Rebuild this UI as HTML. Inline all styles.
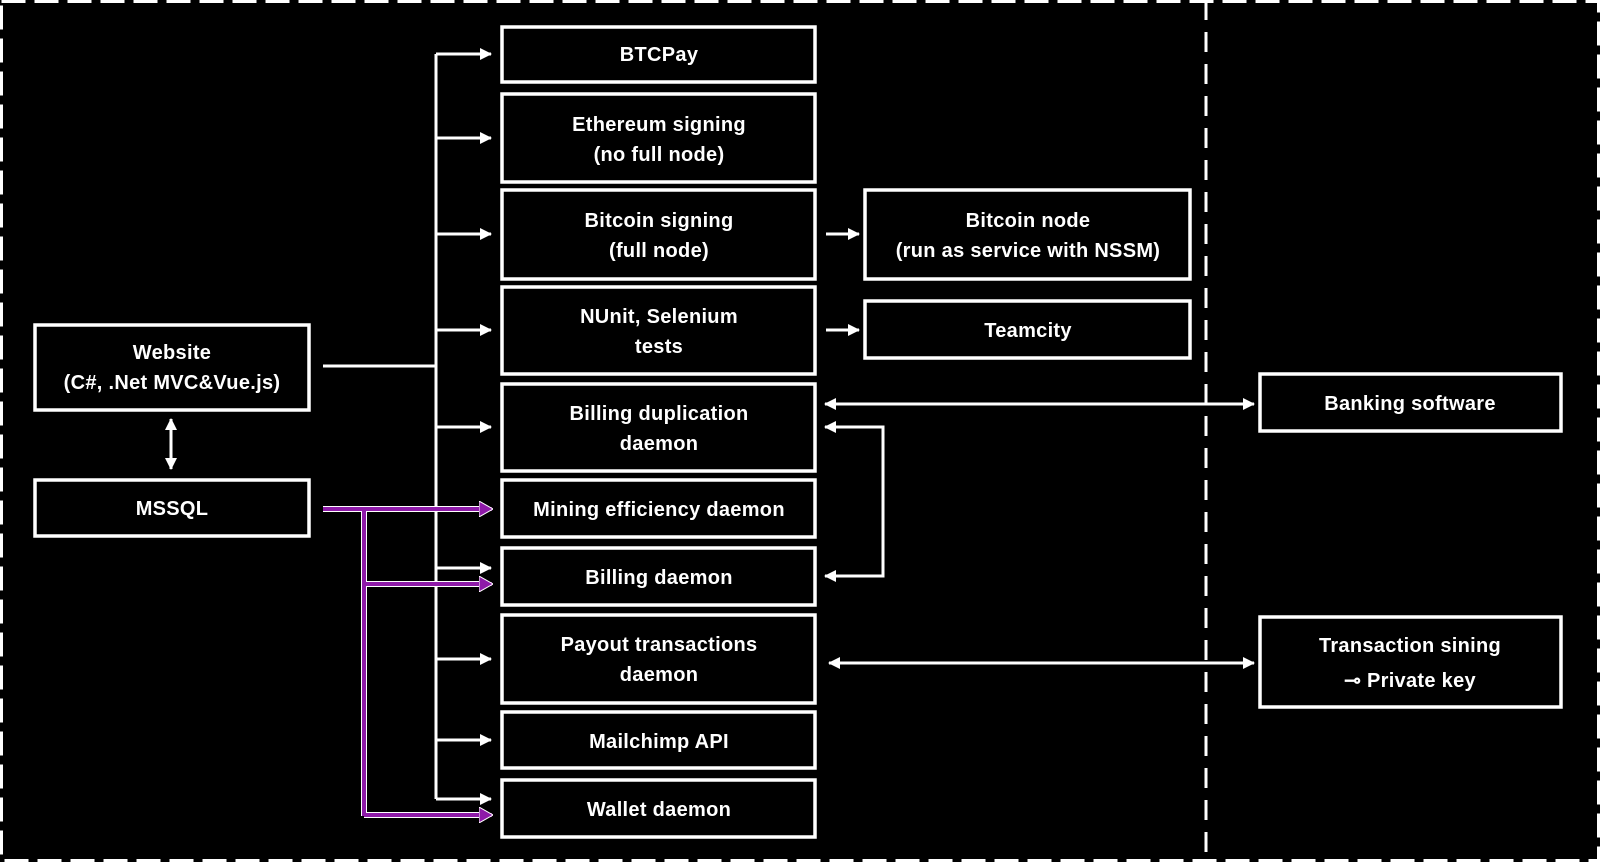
<!DOCTYPE html>
<html><head><meta charset="utf-8"><style>
html,body{margin:0;padding:0;background:#000;}
svg{display:block}
text{font-family:"Liberation Sans",sans-serif;font-weight:bold;font-size:20px;fill:#fff;text-anchor:middle;letter-spacing:0.3px}
</style></head><body>
<svg width="1600" height="862" viewBox="0 0 1600 862" xmlns="http://www.w3.org/2000/svg">
<defs>
<marker id="aw" markerWidth="12" markerHeight="12" refX="11" refY="6" orient="auto" markerUnits="userSpaceOnUse"><path d="M0,0 L12,6 L0,12 Z" fill="#fff"/></marker>
<marker id="aws" markerWidth="12" markerHeight="12" refX="1" refY="6" orient="auto" markerUnits="userSpaceOnUse"><path d="M12,0 L0,6 L12,12 Z" fill="#fff"/></marker>
<marker id="ap" markerWidth="14" markerHeight="16" refX="13" refY="8" orient="auto" markerUnits="userSpaceOnUse"><path d="M0,0 L14,8 L0,16 Z" fill="#8e1aa8" stroke="#fff" stroke-width="1"/></marker>
</defs>
<rect x="1.5" y="1.5" width="1597" height="859" fill="none" stroke="#fff" stroke-width="3" stroke-dasharray="24 9"/>
<line x1="1206" y1="0" x2="1206" y2="862" stroke="#fff" stroke-width="3" stroke-dasharray="20 12"/>
<g fill="none" stroke="#fff" stroke-width="3.5">
<rect x="35" y="325" width="274" height="85"/>
<rect x="35" y="480" width="274" height="56"/>
<rect x="502" y="27" width="313" height="55"/>
<rect x="502" y="94" width="313" height="88"/>
<rect x="502" y="190" width="313" height="89"/>
<rect x="502" y="287" width="313" height="87"/>
<rect x="502" y="384" width="313" height="87"/>
<rect x="502" y="480" width="313" height="57"/>
<rect x="502" y="548" width="313" height="57"/>
<rect x="502" y="615" width="313" height="88"/>
<rect x="502" y="712" width="313" height="56"/>
<rect x="502" y="780" width="313" height="57"/>
<rect x="865" y="190" width="325" height="89"/>
<rect x="865" y="301" width="325" height="57"/>
<rect x="1260" y="374" width="301" height="57"/>
<rect x="1260" y="617" width="301" height="90"/>
</g>
<g fill="none" stroke="#fff" stroke-width="3">
<line x1="323" y1="366" x2="436" y2="366"/>
<line x1="436" y1="54" x2="436" y2="799"/>
<line x1="436" y1="54" x2="491" y2="54" marker-end="url(#aw)"/>
<line x1="436" y1="138" x2="491" y2="138" marker-end="url(#aw)"/>
<line x1="436" y1="234" x2="491" y2="234" marker-end="url(#aw)"/>
<line x1="436" y1="330" x2="491" y2="330" marker-end="url(#aw)"/>
<line x1="436" y1="427" x2="491" y2="427" marker-end="url(#aw)"/>
<line x1="436" y1="568" x2="491" y2="568" marker-end="url(#aw)"/>
<line x1="436" y1="659" x2="491" y2="659" marker-end="url(#aw)"/>
<line x1="436" y1="740" x2="491" y2="740" marker-end="url(#aw)"/>
<line x1="436" y1="799" x2="491" y2="799" marker-end="url(#aw)"/>
<line x1="171" y1="419" x2="171" y2="469" marker-start="url(#aws)" marker-end="url(#aw)"/>
<line x1="826" y1="234" x2="859" y2="234" marker-end="url(#aw)"/>
<line x1="826" y1="330" x2="859" y2="330" marker-end="url(#aw)"/>
<line x1="825" y1="404" x2="1254" y2="404" marker-start="url(#aws)" marker-end="url(#aw)"/>
<polyline points="825,427 883,427 883,576 825,576" marker-start="url(#aws)" marker-end="url(#aw)"/>
<line x1="829" y1="663" x2="1254" y2="663" marker-start="url(#aws)" marker-end="url(#aw)"/>
</g>
<g fill="none" stroke="#fff" stroke-width="6">
<line x1="323" y1="509" x2="480" y2="509"/>
<line x1="364" y1="509" x2="364" y2="816"/>
<line x1="364" y1="584" x2="480" y2="584"/>
<line x1="364" y1="815" x2="480" y2="815"/>
</g>
<g fill="none" stroke="#8e1aa8" stroke-width="4">
<line x1="323" y1="509" x2="492" y2="509" marker-end="url(#ap)"/>
<line x1="364" y1="509" x2="364" y2="816"/>
<line x1="364" y1="584" x2="492" y2="584" marker-end="url(#ap)"/>
<line x1="364" y1="815" x2="492" y2="815" marker-end="url(#ap)"/>
</g>
<text x="172" y="359">Website</text>
<text x="172" y="389">(C#, .Net MVC&amp;Vue.js)</text>
<text x="172" y="515">MSSQL</text>
<text x="659" y="61">BTCPay</text>
<text x="659" y="131">Ethereum signing</text>
<text x="659" y="161">(no full node)</text>
<text x="659" y="227">Bitcoin signing</text>
<text x="659" y="257">(full node)</text>
<text x="659" y="323">NUnit, Selenium</text>
<text x="659" y="353">tests</text>
<text x="659" y="420">Billing duplication</text>
<text x="659" y="450">daemon</text>
<text x="659" y="516">Mining efficiency daemon</text>
<text x="659" y="584">Billing daemon</text>
<text x="659" y="651">Payout transactions</text>
<text x="659" y="681">daemon</text>
<text x="659" y="748">Mailchimp API</text>
<text x="659" y="816">Wallet daemon</text>
<text x="1028" y="227">Bitcoin node</text>
<text x="1028" y="257">(run as service with NSSM)</text>
<text x="1028" y="337">Teamcity</text>
<text x="1410" y="410">Banking software</text>
<text x="1410" y="652">Transaction sining</text>
<text x="1410" y="687">⊸ Private key</text>
</svg>
</body></html>
